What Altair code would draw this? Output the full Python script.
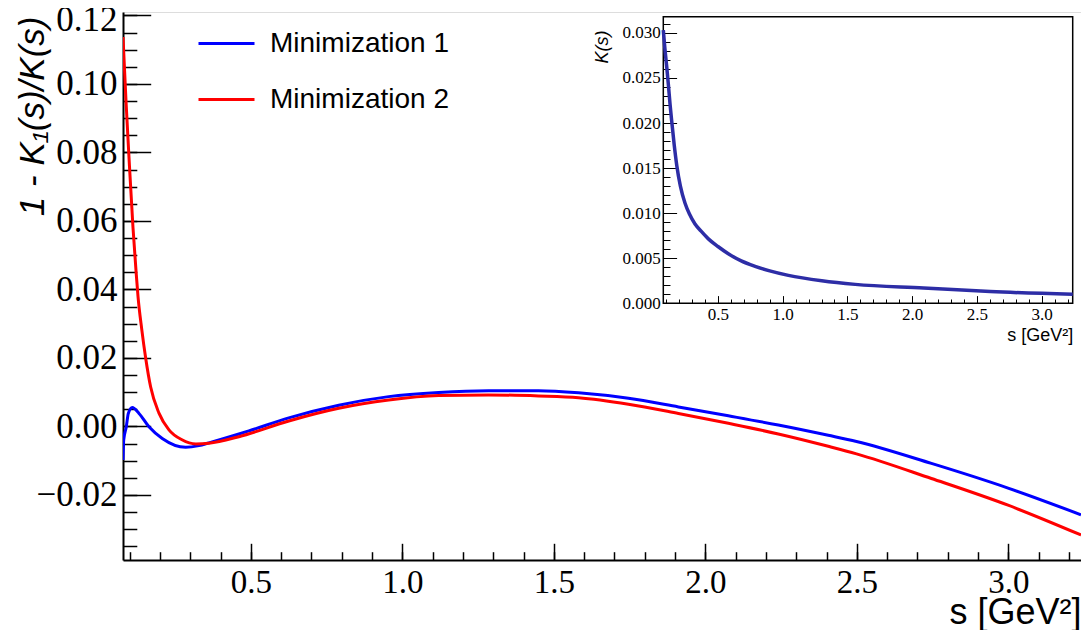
import altair as alt
import pandas as pd

W, H = 958, 548

names = ["Minimization 1", "Minimization 2"]
colors = ["#0000ff", "#ff0000"]

# Minimization 1 (blue)
s1 = [0.078, 0.0803, 0.0889, 0.0955, 0.1087, 0.1308, 0.1637, 0.2076, 0.2847, 0.3286, 0.3616,
      0.4605, 0.4934, 0.6253, 0.7902, 0.955, 1.1199, 1.2847, 1.4496, 1.5815, 1.7463, 1.9112,
      2.076, 2.2409, 2.4058, 2.499, 2.7463, 2.9992, 3.24]
v1 = [-0.0098, -0.0040, -0.0001, 0.0038, 0.0055, 0.0038, -0.0001, -0.0035, -0.0061, -0.0056, -0.0048,
      -0.0022, -0.0013, 0.0025, 0.0062, 0.0087, 0.0099, 0.0104, 0.0104, 0.0098, 0.0082, 0.0057,
      0.0031, 0.0004, -0.0026, -0.0044, -0.0108, -0.0180, -0.0258]

# Minimization 2 (red)
s2 = [0.078, 0.0879, 0.0978, 0.111, 0.1209, 0.1275, 0.1397, 0.1528, 0.1693, 0.1967, 0.2297,
      0.2726, 0.3187, 0.3616, 0.4605, 0.6253, 0.7902, 0.955, 1.1199, 1.2847, 1.4496, 1.5815,
      1.7463, 1.9112, 2.076, 2.2409, 2.4058, 2.499, 2.7463, 2.9992, 3.24]
v2 = [0.1137, 0.0950, 0.0785, 0.0580, 0.0455, 0.0380, 0.0285, 0.0200, 0.0115, 0.0039, -0.0010,
      -0.0039, -0.0051, -0.0049, -0.0030, 0.0016, 0.0053, 0.0077, 0.0090, 0.0092, 0.0089, 0.0084,
      0.0065, 0.0038, 0.0009, -0.0022, -0.0058, -0.0080, -0.0152, -0.0230, -0.0317]

# Inset K(s)
sk = [0.078, 0.090, 0.104, 0.117, 0.130, 0.143, 0.162, 0.182, 0.210, 0.246, 0.280, 0.323, 0.370,
      0.426, 0.50, 0.580, 0.680, 0.787, 0.90, 1.044, 1.302, 1.560, 2.088, 2.603, 3.24]
kk = [0.0303, 0.0283, 0.0263, 0.0243, 0.0221, 0.0202, 0.0176, 0.0153, 0.0130, 0.0111, 0.0099,
      0.0088, 0.0080, 0.00715, 0.0063, 0.0055, 0.0047, 0.0041, 0.0036, 0.0031, 0.0025, 0.0021,
      0.0017, 0.0013, 0.0010]

# axis domains and ticks
x_dom = [0.078, 3.24]
y_dom = [-0.039, 0.121]
xk_dom = [0.078, 3.24]
yk_dom = [0.0, 0.0318]

x_major = [0.5, 1.0, 1.5, 2.0, 2.5, 3.0]
x_minor = [round(0.1 * i, 1) for i in range(1, 33)]
y_major = [-0.02, 0.0, 0.02, 0.04, 0.06, 0.08, 0.10, 0.12]
y_minor = [round(-0.035 + 0.005 * i, 3) for i in range(0, 32)]
yk_major = [0.0, 0.005, 0.010, 0.015, 0.020, 0.025, 0.030]
yk_minor = [round(0.001 * i, 3) for i in range(0, 32)]

main_df = pd.DataFrame({
    "s": s1 + s2,
    "v": v1 + v2,
    "series": [names[0]] * len(s1) + [names[1]] * len(s2),
})
k_df = pd.DataFrame({"s": sk, "k": kk})
frame_df = pd.DataFrame({"x0": [xk_dom[0]], "x1": [xk_dom[1]], "y0": [yk_dom[0]], "y1": [yk_dom[1]]})

# inset placement inside the plot area (pixels)
IX0, IX1 = 540.3, 949.7
IY0, IY1 = 291.3, 4.7

xs_main = alt.Scale(domain=x_dom, nice=False, zero=False)
ys_main = alt.Scale(domain=y_dom, nice=False, zero=False)
xs_in = alt.Scale(domain=xk_dom, range=[IX0, IX1], nice=False, zero=False)
ys_in = alt.Scale(domain=yk_dom, range=[IY0, IY1], nice=False, zero=False)

SERIF = "Liberation Serif"
SANS = "Liberation Sans"


def tick_axis(orient, offset, values, size, width=1.5, domain=False):
    return alt.Axis(orient=orient, offset=offset, values=values, labels=False, ticks=True,
                    tickSize=size, tickWidth=width, tickColor="black", domain=domain,
                    domainColor="black", domainWidth=2, grid=False, title=None)


# ---------- main plot ----------
lines = alt.Chart(main_df).mark_line(strokeWidth=3, interpolate="monotone", clip=True).encode(
    x=alt.X("s:Q", scale=xs_main, axis=alt.Axis(
        orient="bottom", values=x_major, format=".1f", ticks=False, tickSize=0, domain=False,
        grid=False, labelFont=SERIF, labelFontSize=33, labelColor="black",
        labelBaseline="alphabetic", labelPadding=32, labelFlush=False, labelOverlap=False,
        title="s [GeV²]", titleFont=SANS, titleFontSize=36, titleFontWeight="normal",
        titleColor="black", titleX=W, titleY=63, titleAlign="right", titleBaseline="alphabetic")),
    y=alt.Y("v:Q", scale=ys_main, axis=alt.Axis(
        orient="left", values=y_major, format=".2f", ticks=False, tickSize=0, domain=False,
        grid=False, labelFont=SERIF, labelFontSize=35, labelColor="black", labelPadding=6,
        labelOffset={"condition": {"test": "datum.value > 0.11", "value": 4}, "value": 0},
        labelFlush=False, labelOverlap=False,
        title="1 - K₁(s)/K(s)", titleFont=SANS, titleFontSize=35, titleFontStyle="italic",
        titleFontWeight="normal", titleColor="black", titleX=-80, titleY=4, titleAngle=270,
        titleAlign="right", titleBaseline="alphabetic")),
    color=alt.Color("series:N", scale=alt.Scale(domain=names, range=colors), title=None,
                    legend=alt.Legend(orient="none", legendX=74, legendY=2, symbolType="stroke",
                                      symbolSize=3136, symbolStrokeWidth=3, labelFont=SANS,
                                      labelFontSize=28, labelColor="black", labelOffset=14,
                                      labelLimit=400, rowPadding=12, padding=0)),
)

main_major = alt.Chart(main_df).mark_line(opacity=0).encode(
    x=alt.X("s:Q", scale=xs_main, axis=tick_axis("top", -H, x_major, 16.7, domain=True)),
    y=alt.Y("v:Q", scale=ys_main, axis=tick_axis("right", -W, y_major, 27.7, domain=True)),
)
main_minor = alt.Chart(main_df).mark_line(opacity=0).encode(
    x=alt.X("s:Q", scale=xs_main, axis=tick_axis("top", -H, x_minor, 8.3)),
    y=alt.Y("v:Q", scale=ys_main, axis=tick_axis("right", -W, y_minor, 13.8)),
)

# ---------- inset ----------
inset_line = alt.Chart(k_df).mark_line(strokeWidth=3.5, color="#2d2da6", interpolate="monotone").encode(
    x=alt.X("s:Q", scale=xs_in, axis=alt.Axis(
        orient="bottom", offset=-(H - IY0), values=x_major, format=".1f", ticks=False, tickSize=0,
        domain=False, grid=False, labelFont=SERIF, labelFontSize=17, labelColor="black",
        labelBaseline="alphabetic", labelPadding=16, labelFlush=False, labelOverlap=False,
        title="s [GeV²]", titleFont=SANS, titleFontSize=18, titleFontWeight="normal",
        titleColor="black", titleX=IX1, titleY=37, titleAlign="right", titleBaseline="alphabetic")),
    y=alt.Y("k:Q", scale=ys_in, axis=alt.Axis(
        orient="left", offset=-IX0, values=yk_major, format=".3f", ticks=False, tickSize=0,
        domain=False, grid=False, labelFont=SERIF, labelFontSize=17, labelColor="black",
        labelPadding=3, labelFlush=False, labelOverlap=False,
        title="K(s)", titleFont=SANS, titleFontSize=18, titleFontStyle="italic",
        titleFontWeight="normal", titleColor="black", titleX=-56, titleY=18, titleAngle=270,
        titleAlign="right", titleBaseline="alphabetic")),
)
inset_major = alt.Chart(k_df).mark_line(opacity=0).encode(
    x=alt.X("s:Q", scale=xs_in, axis=tick_axis("top", -IY0, x_major, 7.7, width=1)),
    y=alt.Y("k:Q", scale=ys_in, axis=tick_axis("right", IX0 - W, yk_major, 13.3, width=1)),
)
inset_minor = alt.Chart(k_df).mark_line(opacity=0).encode(
    x=alt.X("s:Q", scale=xs_in, axis=tick_axis("top", -IY0, x_minor, 4.3, width=1)),
    y=alt.Y("k:Q", scale=ys_in, axis=tick_axis("right", IX0 - W, yk_minor, 6.7, width=1)),
)
inset_frame = alt.Chart(frame_df).mark_rect(fill="white", fillOpacity=0, stroke="black",
                                            strokeWidth=1.5).encode(
    x=alt.X("x0:Q", scale=xs_in, axis=None),
    x2="x1:Q",
    y=alt.Y("y0:Q", scale=ys_in, axis=None),
    y2="y1:Q",
)

chart = alt.layer(
    main_minor, main_major, lines, inset_frame, inset_minor, inset_major, inset_line
).resolve_scale(
    x="independent", y="independent"
).properties(
    width=W, height=H, autosize="none",
    padding={"left": 115, "top": 4, "right": 0, "bottom": 70},
).configure_view(
    stroke="black", strokeWidth=1.5
).configure(background="white")

chart.save("out.html", embed_options={"renderer": "svg", "actions": False})
